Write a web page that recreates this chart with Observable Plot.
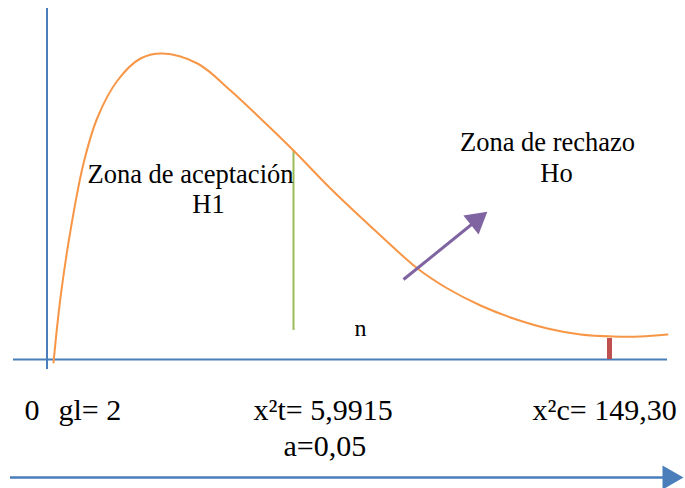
<!DOCTYPE html>
<html><head><meta charset="utf-8">
<script src="https://cdn.jsdelivr.net/npm/d3@7"></script>
<script src="https://cdn.jsdelivr.net/npm/@observablehq/plot@0.6"></script>
<style>
html,body{margin:0;padding:0;background:#fff;}
svg text{font-family:"Liberation Serif","Times New Roman",serif !important;}
</style>
</head><body><div id="chart"></div>
<script>
// Chi-square curve (x right, y down in diagram units)
const curveX = [53, 60, 70, 83, 97, 117, 140, 162, 197, 230, 260, 293, 330, 380, 417, 447, 480, 513, 547, 580, 613, 640, 667];
const curveY = [362, 297, 230, 163, 117, 80, 58, 53, 63, 90, 118, 150, 188, 235, 268, 288, 305, 318, 328, 334, 336, 336, 334];

// axes of the diagram
const axisXRange = [13, 667], axisY = 359;
const axisYRange = [8, 369], axisX = 46.5;

// critical values
const tableX = 293, tableRange = [150, 330];
const calcX = 609, calcRange = [338, 359];

// arrow toward rejection zone
const arrowFrom = [403, 279], arrowTo = [481, 216];
// bottom arrow
const bottomArrowRange = [10, 668], bottomArrowY = 477;

// labels
const zoneLabels = ["Zona de aceptación", "H1", "Zona de rechazo", "Ho"];
const zoneX = [190, 208, 547, 556];
const zoneY = [182, 212, 150, 181];
const nLabel = "n", nX = 360, nY = 335;
const bottomLabels = ["0", "gl= 2", "x²t= 5,9915", "x²c= 149,30"];
const bottomX = [24, 58, 253, 532];
const bottomY = 419;
const alphaLabel = "a=0,05", alphaX = 283, alphaY = 455;

const curve = curveX.map((x, i) => ({x, y: curveY[i]}));
const zones = zoneLabels.map((t, i) => ({t, x: zoneX[i], y: zoneY[i]}));
const bottoms = bottomLabels.map((t, i) => ({t, x: bottomX[i], y: bottomY}));

const serif = "Liberation Serif";
const blue = "#4a7ebb";
const dx = arrowTo[0] - arrowFrom[0], dy = arrowTo[1] - arrowFrom[1];
const ang = Math.atan2(dy, dx) * 180 / Math.PI + 90;
const L = Math.hypot(dx, dy), back = 10;
const arrowBase = [arrowTo[0] - dx / L * back, arrowTo[1] - dy / L * back];

const chart = Plot.plot({
  width: 685, height: 488,
  margin: 0,
  x: {domain: [0, 685], range: [0, 685], axis: null},
  y: {domain: [0, 488], range: [0, 488], axis: null},
  style: {fontFamily: serif, background: "#fff"},
  marks: [
    Plot.ruleY([axisY], {x1: axisXRange[0], x2: axisXRange[1], stroke: blue, strokeWidth: 2}),
    Plot.ruleX([axisX], {y1: axisYRange[0], y2: axisYRange[1], stroke: blue, strokeWidth: 2}),
    Plot.ruleX([tableX], {y1: tableRange[0], y2: tableRange[1], stroke: "#9bbb59", strokeWidth: 2}),
    Plot.line(curve, {x: "x", y: "y", curve: "catmull-rom", stroke: "#f79646", strokeWidth: 2}),
    Plot.ruleX([calcX], {y1: calcRange[0], y2: calcRange[1], stroke: "#c0504d", strokeWidth: 5}),
    Plot.link([0], {x1: () => arrowFrom[0], y1: () => arrowFrom[1], x2: () => arrowBase[0], y2: () => arrowBase[1], stroke: "#8064a2", strokeWidth: 3}),
    Plot.dot([0], {x: () => arrowTo[0] - dx / L * 6.5, y: () => arrowTo[1] - dy / L * 6.5, symbol: "triangle", r: 9, fill: "#8064a2", stroke: null, rotate: ang}),
    Plot.ruleY([bottomArrowY], {x1: bottomArrowRange[0], x2: bottomArrowRange[1], stroke: blue, strokeWidth: 2.5}),
    Plot.dot([0], {x: () => bottomArrowRange[1] + 1, y: () => bottomArrowY, symbol: "triangle", r: 9, fill: blue, stroke: null, rotate: 90}),
    Plot.text(zones, {x: "x", y: "y", text: "t", lineAnchor: "bottom", textAnchor: "middle", fontSize: 26.5, fontFamily: serif, fill: "#000"}),
    Plot.text([nLabel], {x: () => nX, y: () => nY, text: d => d, lineAnchor: "bottom", textAnchor: "middle", fontSize: 24, fontFamily: serif, fill: "#000"}),
    Plot.text(bottoms, {x: "x", y: "y", text: "t", lineAnchor: "bottom", textAnchor: "start", fontSize: 30, fontFamily: serif, fill: "#000"}),
    Plot.text([alphaLabel], {x: () => alphaX, y: () => alphaY, text: d => d, lineAnchor: "bottom", textAnchor: "start", fontSize: 30, fontFamily: serif, fill: "#000"})
  ]
});
document.getElementById("chart").appendChild(chart);
</script>
</body></html>
